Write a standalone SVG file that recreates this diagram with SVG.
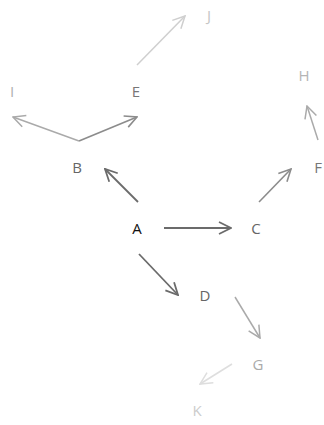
<svg xmlns="http://www.w3.org/2000/svg" width="324" height="425" viewBox="0 0 324 425">
<defs>
<marker id="m1" viewBox="0 0 14 14" refX="13" refY="7" markerWidth="14" markerHeight="14" markerUnits="userSpaceOnUse" orient="auto"><path d="M1,1 L13,7 L1,13" fill="none" stroke="#6b6b6b" stroke-width="1.8"/></marker>
<marker id="m2" viewBox="0 0 14 14" refX="13" refY="7" markerWidth="14" markerHeight="14" markerUnits="userSpaceOnUse" orient="auto"><path d="M1,1 L13,7 L1,13" fill="none" stroke="#8c8c8c" stroke-width="1.6"/></marker>
<marker id="m3" viewBox="0 0 14 14" refX="13" refY="7" markerWidth="14" markerHeight="14" markerUnits="userSpaceOnUse" orient="auto"><path d="M1,1 L13,7 L1,13" fill="none" stroke="#aaaaaa" stroke-width="1.5"/></marker>
<marker id="m4" viewBox="0 0 14 14" refX="13" refY="7" markerWidth="14" markerHeight="14" markerUnits="userSpaceOnUse" orient="auto"><path d="M1,1 L13,7 L1,13" fill="none" stroke="#cfcfcf" stroke-width="1.5"/></marker>
<marker id="m5" viewBox="0 0 14 14" refX="13" refY="7" markerWidth="14" markerHeight="14" markerUnits="userSpaceOnUse" orient="auto"><path d="M1,1 L13,7 L1,13" fill="none" stroke="#dedede" stroke-width="1.5"/></marker>
</defs>
<style>
text{font-family:"Open Sans","Liberation Sans",sans-serif;font-size:15px;text-anchor:middle;dominant-baseline:central}
.c1{stroke:#6b6b6b;stroke-width:1.8;fill:none;marker-end:url(#m1)}
.c2{stroke:#8c8c8c;stroke-width:1.6;fill:none;marker-end:url(#m2)}
.c3{stroke:#aaaaaa;stroke-width:1.5;fill:none;marker-end:url(#m3)}
.c4{stroke:#cfcfcf;stroke-width:1.5;fill:none;marker-end:url(#m4)}
.c5{stroke:#dedede;stroke-width:1.5;fill:none;marker-end:url(#m5)}
</style>
<rect width="324" height="425" fill="#ffffff"/>
<g id="connectors">
<line class="c1" x1="138" y1="202" x2="105" y2="169"/>
<line class="c1" x1="164" y1="228" x2="231" y2="228"/>
<line class="c1" x1="139" y1="254" x2="178" y2="295"/>
<line class="c2" x1="259" y1="202" x2="291" y2="169"/>
<line class="c2" x1="79" y1="141" x2="137" y2="117"/>
<line class="c3" x1="79" y1="141" x2="13" y2="117"/>
<line class="c4" x1="137" y1="65" x2="185" y2="16"/>
<line class="c3" x1="318" y1="140" x2="307" y2="106"/>
<line class="c3" x1="235" y1="297" x2="260" y2="338"/>
<line class="c5" x1="232" y1="364" x2="200" y2="384"/>
</g>
<g id="A"><text x="137" y="228" fill="#111111">A</text></g>
<g id="B"><text x="77" y="167" fill="#666666">B</text></g>
<g id="C"><text x="256" y="228" fill="#666666">C</text></g>
<g id="D"><text x="205" y="295" fill="#666666">D</text></g>
<g id="E"><text x="136" y="91" fill="#777777">E</text></g>
<g id="F"><text x="318" y="167" fill="#777777">F</text></g>
<g id="G"><text x="258" y="364" fill="#aaaaaa">G</text></g>
<g id="H"><text x="304" y="75" fill="#b5b5b5">H</text></g>
<g id="I"><text x="12" y="91" fill="#b0b0b0">I</text></g>
<g id="J"><text x="209" y="15" fill="#c5c5c5">J</text></g>
<g id="K"><text x="197" y="410" fill="#cccccc">K</text></g>
</svg>
